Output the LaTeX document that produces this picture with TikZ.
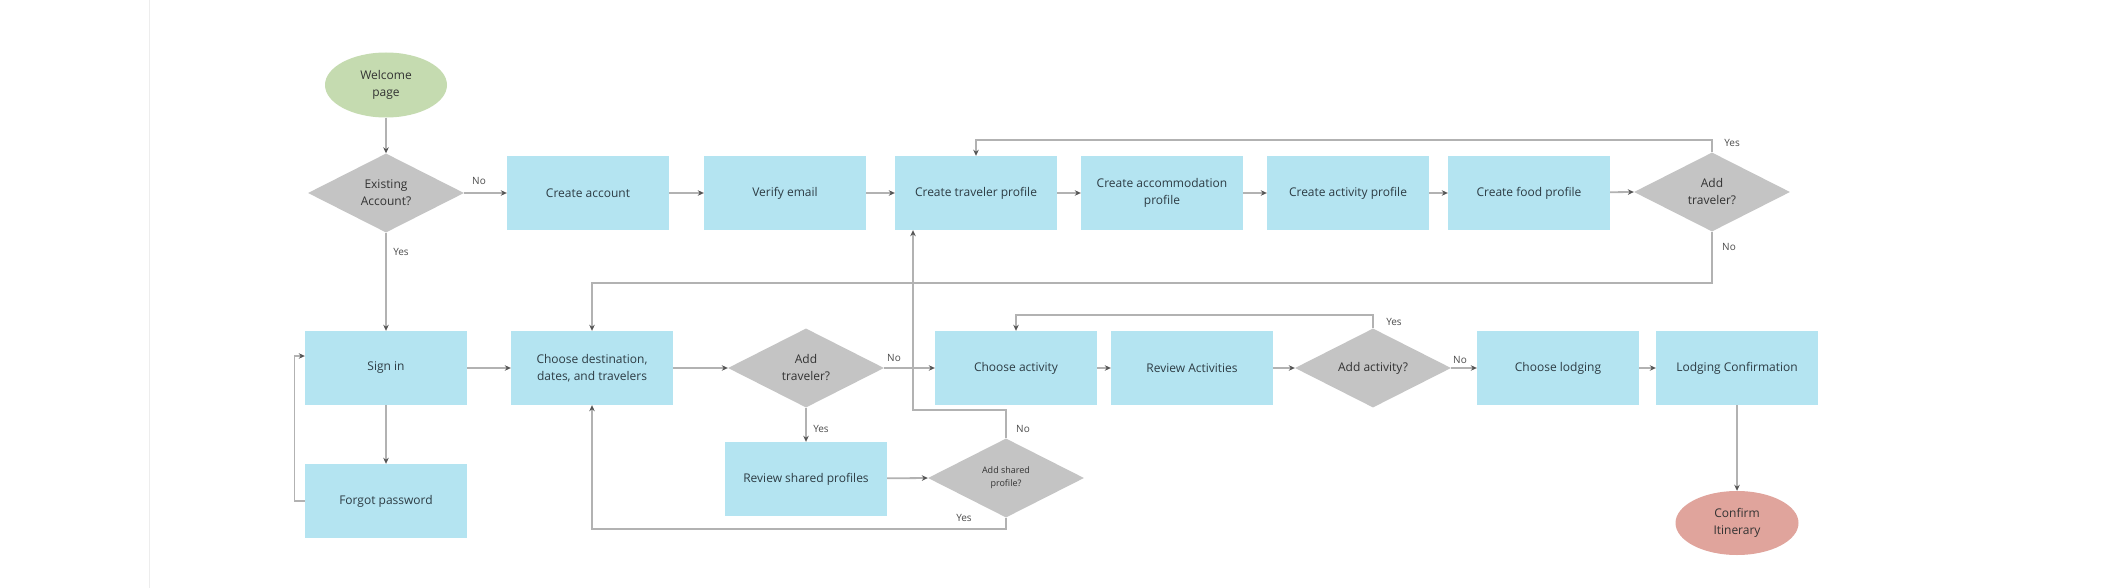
\documentclass[tikz,border=0pt]{standalone}
\usepackage{fontspec}
\setmainfont{Open Sans}
\usetikzlibrary{shapes.geometric,arrows.meta}
\definecolor{boxblue}{RGB}{180,228,241}
\definecolor{diagray}{RGB}{196,196,196}
\definecolor{startgreen}{RGB}{197,219,176}
\definecolor{endred}{RGB}{224,164,156}
\definecolor{linegray}{RGB}{178,178,178}
\definecolor{tipgray}{RGB}{85,85,85}
\definecolor{txt}{RGB}{45,60,68}
\begin{document}
\begin{tikzpicture}[x=1pt,y=-1pt,
  box/.style={rectangle, fill=boxblue, minimum width=162pt, minimum height=74pt, inner sep=2pt, align=center, font=\fontsize{12}{17}\selectfont, text=txt},
  dia/.style={diamond, fill=diagray, minimum width=156pt, minimum height=79pt, aspect=2, inner sep=0pt, align=center, font=\fontsize{12}{17}\selectfont, text=black!80},
  term/.style={ellipse, minimum width=122pt, minimum height=65pt, inner sep=0pt, align=center, font=\fontsize{12}{17}\selectfont, text=black!80},
  arr/.style={draw=linegray, line width=1.8pt, -{Stealth[length=6pt,width=5.5pt,color=tipgray]}},
  thinarr/.style={arr, line width=1.2pt},
  lab/.style={font=\fontsize{10}{12}\selectfont, text=black!70, inner sep=1pt}]
\useasboundingbox (0,0) rectangle (2104,588);
\fill[white] (0,0) rectangle (2104,588);
\draw[black!7, line width=1pt] (149,0) -- (149,588);

% top part
\node[term, fill=startgreen] (welcome) at (386,85) {Welcome\\page};
\node[dia] (exist) at (386,193) {Existing\\Account?};
\node[box] (create) at (588,193) {Create account};
\node[box] (verify) at (785,193) {Verify email};
\node[box] (travprof) at (976,193) {Create traveler profile};
\node[box] (accom) at (1162,193) {Create accommodation\\profile};
\node[box] (actprof) at (1348,193) {Create activity profile};
\node[box] (food) at (1529,193) {Create food profile};
\node[dia] (addtrav1) at (1712,192) {Add\\traveler?};

% middle row
\node[box] (signin) at (386,368) {Sign in};
\node[box] (forgot) at (386,501) {Forgot password};
\node[box] (dest) at (592,368) {Choose destination,\\dates, and travelers};
\node[dia] (addtrav2) at (806,368) {Add\\traveler?};
\node[box] (review) at (806,479) {Review shared profiles};
\node[dia, font=\fontsize{9}{13}\selectfont] (addshared) at (1006,478) {Add shared\\profile?};
\node[box] (chooseact) at (1016,368) {Choose activity};
\node[box] (reviewact) at (1192,368) {Review Activities};
\node[dia] (addact) at (1373,368) {Add activity?};
\node[box] (lodging) at (1558,368) {Choose lodging};
\node[box] (lodgconf) at (1737,368) {Lodging Confirmation};
\node[term, fill=endred, minimum width=123pt, minimum height=64pt] (confirm) at (1737,523) {Confirm\\Itinerary};

% connectors
\draw[arr] (welcome) -- (exist);
\draw[arr] (exist.east) -- (create.west);
\draw[arr] (create) -- (verify);
\draw[arr] (verify) -- (travprof);
\draw[arr] (travprof) -- (accom);
\draw[arr] (accom) -- (actprof);
\draw[arr] (actprof) -- (food);
\draw[arr] (food) -- (addtrav1.west);
\draw[arr] (addtrav1.north) -- ++(0,-12) -| (travprof.north);
\draw[arr] (addtrav1.south) -- ++(0,51) -| (dest.north);
\draw[arr] (exist.south) -- (signin.north);
\draw[thinarr] (signin) -- (forgot);
\draw[thinarr] (forgot.west) -- ++(-10,0) |- ([yshift=12pt]signin.west);
\draw[arr] (signin) -- (dest);
\draw[arr] (dest) -- (addtrav2.west);
\draw[arr] (addtrav2.east) -- (chooseact.west);
\draw[arr] (addtrav2.south) -- (review.north);
\draw[arr] (review) -- (addshared.west);
\draw[arr] (addshared.north) -- ++(0,-28) -| ([xshift=-63pt]travprof.south);
\draw[arr] (addshared.south) -- ++(0,11) -| (dest.south);
\draw[arr] (chooseact) -- (reviewact);
\draw[arr] (reviewact) -- (addact.west);
\draw[arr] (addact.north) -- ++(0,-13) -| (chooseact.north);
\draw[arr] (addact.east) -- (lodging.west);
\draw[arr] (lodging) -- (lodgconf);
\draw[arr] (lodgconf) -- (confirm);

% labels
\node[lab] (l1) at (479,181) {No};
\node[lab] (l2) at (401,252) {Yes};
\node[lab] (l3) at (1732,143) {Yes};
\node[lab] (l4) at (1729,247) {No};
\node[lab] (l5) at (894,358) {No};
\node[lab] (l6) at (821,429) {Yes};
\node[lab] (l7) at (1023,429) {No};
\node[lab] (l8) at (964,518) {Yes};
\node[lab] (l9) at (1394,322) {Yes};
\node[lab] (l10) at (1460,360) {No};
\end{tikzpicture}
\end{document}
